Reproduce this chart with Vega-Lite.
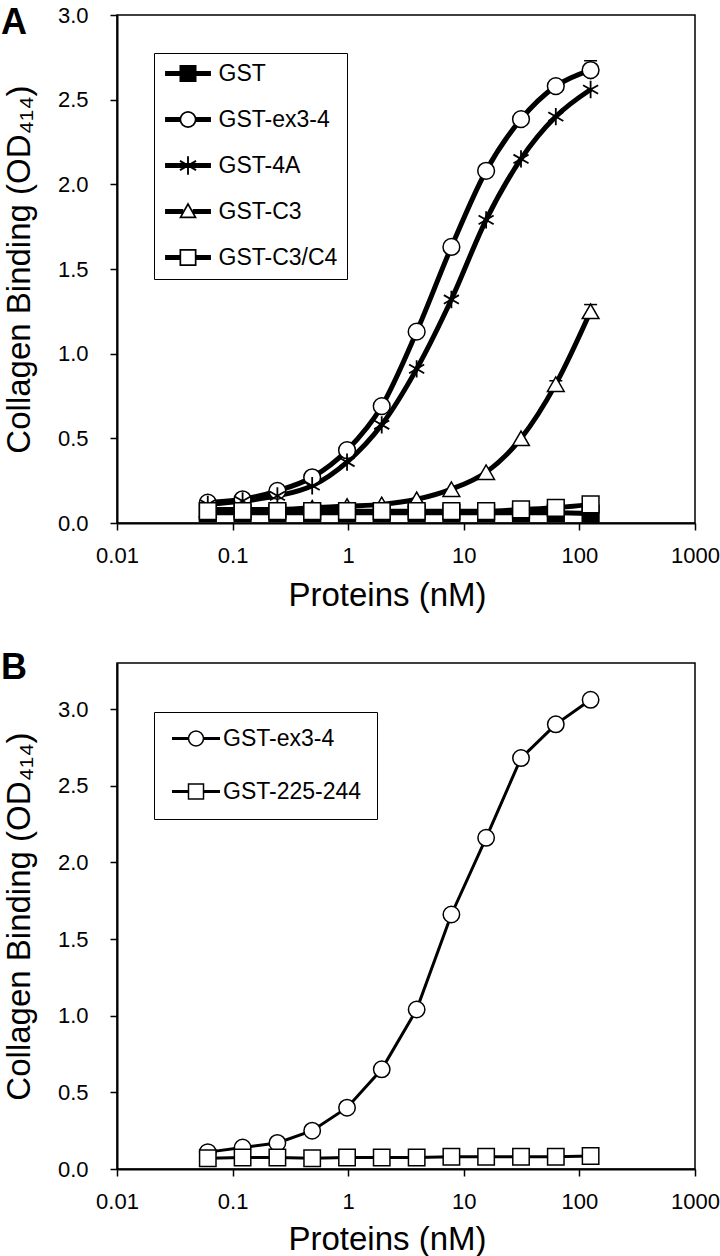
{
  "$schema": "https://vega.github.io/schema/vega-lite/v6.json",
  "background": "white",
  "padding": {"left": 0, "top": 3, "right": 5, "bottom": 0},
  "spacing": 35,
  "config": {
    "font": "Liberation Sans",
    "view": {"stroke": "black", "strokeWidth": 1.5},
    "axis": {
      "grid": false, "domainColor": "black", "domainWidth": 2,
      "tickColor": "black", "tickWidth": 1.5, "tickSize": 7,
      "labelColor": "black", "labelFont": "Liberation Sans", "labelFontSize": 22,
      "labelFlush": false, "labelOverlap": false,
      "titleColor": "black", "titleFont": "Liberation Sans", "titleFontSize": 33, "titleFontWeight": "normal"
    },
    "legend": {"labelFont": "Liberation Sans", "labelFontSize": 23, "labelColor": "black", "strokeColor": "black", "fillColor": "white"},
    "title": {"font": "Liberation Sans", "fontSize": 36, "fontWeight": "bold", "color": "black", "anchor": "start", "frame": "group"}
  },
  "resolve": {
    "scale": {"x": "independent", "y": "independent", "shape": "independent", "fill": "independent"},
    "legend": {"shape": "independent", "fill": "independent"}
  },
  "datasets": {
    "A": [
      {"series": "GST", "conc": 0.061, "od": 0.06},
      {"series": "GST", "conc": 0.122, "od": 0.06},
      {"series": "GST", "conc": 0.244, "od": 0.06},
      {"series": "GST", "conc": 0.488, "od": 0.06},
      {"series": "GST", "conc": 0.977, "od": 0.06},
      {"series": "GST", "conc": 1.95, "od": 0.06},
      {"series": "GST", "conc": 3.91, "od": 0.06},
      {"series": "GST", "conc": 7.81, "od": 0.06},
      {"series": "GST", "conc": 15.6, "od": 0.06},
      {"series": "GST", "conc": 31.25, "od": 0.06},
      {"series": "GST", "conc": 62.5, "od": 0.06},
      {"series": "GST", "conc": 125, "od": 0.055},
      {"series": "GST-ex3-4", "conc": 0.061, "od": 0.12},
      {"series": "GST-ex3-4", "conc": 0.122, "od": 0.14},
      {"series": "GST-ex3-4", "conc": 0.244, "od": 0.19},
      {"series": "GST-ex3-4", "conc": 0.488, "od": 0.27},
      {"series": "GST-ex3-4", "conc": 0.977, "od": 0.43},
      {"series": "GST-ex3-4", "conc": 1.95, "od": 0.69},
      {"series": "GST-ex3-4", "conc": 3.91, "od": 1.13},
      {"series": "GST-ex3-4", "conc": 7.81, "od": 1.63},
      {"series": "GST-ex3-4", "conc": 15.6, "od": 2.08},
      {"series": "GST-ex3-4", "conc": 31.25, "od": 2.385},
      {"series": "GST-ex3-4", "conc": 62.5, "od": 2.58},
      {"series": "GST-ex3-4", "conc": 125, "od": 2.675},
      {"series": "GST-4A", "conc": 0.061, "od": 0.11},
      {"series": "GST-4A", "conc": 0.122, "od": 0.13},
      {"series": "GST-4A", "conc": 0.244, "od": 0.16},
      {"series": "GST-4A", "conc": 0.488, "od": 0.22},
      {"series": "GST-4A", "conc": 0.977, "od": 0.36},
      {"series": "GST-4A", "conc": 1.95, "od": 0.58},
      {"series": "GST-4A", "conc": 3.91, "od": 0.91},
      {"series": "GST-4A", "conc": 7.81, "od": 1.32},
      {"series": "GST-4A", "conc": 15.6, "od": 1.79},
      {"series": "GST-4A", "conc": 31.25, "od": 2.15},
      {"series": "GST-4A", "conc": 62.5, "od": 2.4},
      {"series": "GST-4A", "conc": 125, "od": 2.56},
      {"series": "GST-C3", "conc": 0.061, "od": 0.08},
      {"series": "GST-C3", "conc": 0.122, "od": 0.08},
      {"series": "GST-C3", "conc": 0.244, "od": 0.08},
      {"series": "GST-C3", "conc": 0.488, "od": 0.09},
      {"series": "GST-C3", "conc": 0.977, "od": 0.1},
      {"series": "GST-C3", "conc": 1.95, "od": 0.11},
      {"series": "GST-C3", "conc": 3.91, "od": 0.14},
      {"series": "GST-C3", "conc": 7.81, "od": 0.2},
      {"series": "GST-C3", "conc": 15.6, "od": 0.3},
      {"series": "GST-C3", "conc": 31.25, "od": 0.5},
      {"series": "GST-C3", "conc": 62.5, "od": 0.82},
      {"series": "GST-C3", "conc": 125, "od": 1.25},
      {"series": "GST-C3/C4", "conc": 0.061, "od": 0.07},
      {"series": "GST-C3/C4", "conc": 0.122, "od": 0.07},
      {"series": "GST-C3/C4", "conc": 0.244, "od": 0.07},
      {"series": "GST-C3/C4", "conc": 0.488, "od": 0.07},
      {"series": "GST-C3/C4", "conc": 0.977, "od": 0.07},
      {"series": "GST-C3/C4", "conc": 1.95, "od": 0.07},
      {"series": "GST-C3/C4", "conc": 3.91, "od": 0.07},
      {"series": "GST-C3/C4", "conc": 7.81, "od": 0.07},
      {"series": "GST-C3/C4", "conc": 15.6, "od": 0.07},
      {"series": "GST-C3/C4", "conc": 31.25, "od": 0.08},
      {"series": "GST-C3/C4", "conc": 62.5, "od": 0.09},
      {"series": "GST-C3/C4", "conc": 125, "od": 0.11}
    ],
    "errA": [
      {"series": "GST-ex3-4", "conc": 125, "lo": 2.62, "hi": 2.73},
      {"series": "GST-C3", "conc": 125, "lo": 1.21, "hi": 1.29},
      {"series": "GST-C3", "conc": 62.5, "lo": 0.79, "hi": 0.84}
    ],
    "B": [
      {"series": "GST-ex3-4", "conc": 0.061, "od": 0.11},
      {"series": "GST-ex3-4", "conc": 0.122, "od": 0.14},
      {"series": "GST-ex3-4", "conc": 0.244, "od": 0.17},
      {"series": "GST-ex3-4", "conc": 0.488, "od": 0.25},
      {"series": "GST-ex3-4", "conc": 0.977, "od": 0.4},
      {"series": "GST-ex3-4", "conc": 1.95, "od": 0.65},
      {"series": "GST-ex3-4", "conc": 3.91, "od": 1.04},
      {"series": "GST-ex3-4", "conc": 7.81, "od": 1.66},
      {"series": "GST-ex3-4", "conc": 15.6, "od": 2.16},
      {"series": "GST-ex3-4", "conc": 31.25, "od": 2.68},
      {"series": "GST-ex3-4", "conc": 62.5, "od": 2.9},
      {"series": "GST-ex3-4", "conc": 125, "od": 3.06},
      {"series": "GST-225-244", "conc": 0.061, "od": 0.07},
      {"series": "GST-225-244", "conc": 0.122, "od": 0.075},
      {"series": "GST-225-244", "conc": 0.244, "od": 0.075},
      {"series": "GST-225-244", "conc": 0.488, "od": 0.07},
      {"series": "GST-225-244", "conc": 0.977, "od": 0.075},
      {"series": "GST-225-244", "conc": 1.95, "od": 0.075},
      {"series": "GST-225-244", "conc": 3.91, "od": 0.075},
      {"series": "GST-225-244", "conc": 7.81, "od": 0.08},
      {"series": "GST-225-244", "conc": 15.6, "od": 0.08},
      {"series": "GST-225-244", "conc": 31.25, "od": 0.08},
      {"series": "GST-225-244", "conc": 62.5, "od": 0.08},
      {"series": "GST-225-244", "conc": 125, "od": 0.085}
    ]
  },
  "vconcat": [
    {
      "width": 578,
      "height": 508,
      "title": {"text": "A", "dx": -116, "dy": 38.5, "offset": -27, "baseline": "alphabetic"},
      "encoding": {
        "x": {"field": "conc", "type": "quantitative",
          "scale": {"type": "log", "domain": [0.01, 1000], "nice": false},
          "axis": {"values": [0.01, 0.1, 1, 10, 100, 1000], "format": "~g", "labelPadding": 15,
            "title": "Proteins (nM)", "titleX": 270, "titleY": 82, "titleBaseline": "alphabetic", "titleAlign": "center", "titleAngle": 0}},
        "y": {"field": "od", "type": "quantitative",
          "scale": {"domain": [0, 3], "nice": false, "zero": true},
          "axis": {"values": [0, 0.5, 1, 1.5, 2, 2.5, 3], "format": ".1f", "labelPadding": 22,
            "title": "Collagen Binding (OD₄₁₄)", "titleX": -88, "titleY": 254, "titleAngle": -90, "titleBaseline": "alphabetic", "titleAlign": "center"}}
      },
      "layer": [
        {
          "data": {"name": "A"},
          "mark": {"type": "line", "interpolate": "monotone", "stroke": "black", "strokeWidth": 5},
          "encoding": {"detail": {"field": "series"}}
        },
        {
          "data": {"name": "errA"},
          "mark": {"type": "rule", "stroke": "black", "strokeWidth": 1.5},
          "encoding": {"y": {"field": "lo", "type": "quantitative"}, "y2": {"field": "hi"}}
        },
        {
          "data": {"name": "errA"},
          "mark": {"type": "point", "shape": "stroke", "size": 169, "stroke": "black", "strokeWidth": 1.5, "opacity": 1},
          "encoding": {"y": {"field": "hi", "type": "quantitative"}}
        },
        {
          "data": {"name": "A"},
          "transform": [{"filter": "datum.series === 'GST'"}],
          "mark": {"type": "point", "shape": "square", "filled": true, "fill": "black", "stroke": "black", "strokeWidth": 1.5, "size": 280, "opacity": 1}
        },
        {
          "data": {"name": "A"},
          "transform": [{"filter": "datum.series === 'GST-ex3-4'"}],
          "mark": {"type": "point", "shape": "circle", "filled": true, "fill": "white", "stroke": "black", "strokeWidth": 1.5, "size": 280, "opacity": 1}
        },
        {
          "data": {"name": "A"},
          "transform": [{"filter": "datum.series === 'GST-4A'"}],
          "mark": {"type": "point", "shape": "M 0 -1 L 0 1 M -0.87 -0.5 L 0.87 0.5 M -0.87 0.5 L 0.87 -0.5", "filled": true, "fill": "white", "stroke": "black", "strokeWidth": 1.8, "size": 300, "opacity": 1}
        },
        {
          "data": {"name": "A"},
          "transform": [{"filter": "datum.series === 'GST-C3'"}],
          "mark": {"type": "point", "shape": "triangle-up", "filled": true, "fill": "white", "stroke": "black", "strokeWidth": 1.5, "size": 280, "opacity": 1}
        },
        {
          "data": {"name": "A"},
          "transform": [{"filter": "datum.series === 'GST-C3/C4'"}],
          "mark": {"type": "point", "shape": "square", "filled": true, "fill": "white", "stroke": "black", "strokeWidth": 1.5, "size": 280, "opacity": 1}
        },
        {
          "data": {"name": "A"},
          "transform": [{"filter": "false"}],
          "mark": {"type": "point", "filled": true, "strokeWidth": 0, "size": 289, "opacity": 1},
          "encoding": {
            "shape": {"field": "series", "type": "nominal",
              "scale": {"domain": ["GST", "GST-ex3-4", "GST-4A", "GST-C3", "GST-C3/C4"],
                "range": [
                  "M -1 -1 L 1 -1 L 1 1 L -1 1 Z M -2.7 -0.3 L -0.9 -0.3 L -0.9 0.3 L -2.7 0.3 Z M 0.9 -0.3 L 2.7 -0.3 L 2.7 0.3 L 0.9 0.3 Z",
                  "M 1 0 L 0.924 0.383 L 0.707 0.707 L 0.383 0.924 L 0 1 L -0.383 0.924 L -0.707 0.707 L -0.924 0.383 L -1 0 L -0.924 -0.383 L -0.707 -0.707 L -0.383 -0.924 L 0 -1 L 0.383 -0.924 L 0.707 -0.707 L 0.924 -0.383 Z M 0.8 0 L 0.739 -0.306 L 0.566 -0.566 L 0.306 -0.739 L 0 -0.8 L -0.306 -0.739 L -0.566 -0.566 L -0.739 -0.306 L -0.8 0 L -0.739 0.306 L -0.566 0.566 L -0.306 0.739 L 0 0.8 L 0.306 0.739 L 0.566 0.566 L 0.739 0.306 Z M -2.7 -0.3 L -0.9 -0.3 L -0.9 0.3 L -2.7 0.3 Z M 0.9 -0.3 L 2.7 -0.3 L 2.7 0.3 L 0.9 0.3 Z",
                  "M -2.7 -0.3 L 2.7 -0.3 L 2.7 0.3 L -2.7 0.3 Z M -0.11 -1.1 L 0.11 -1.1 L 0.11 1.1 L -0.11 1.1 Z M -0.895 -0.645 L 1.005 0.455 L 0.895 0.645 L -1.005 -0.455 Z M -1.005 0.455 L 0.895 -0.645 L 1.005 -0.455 L -0.895 0.645 Z",
                  "M 0 -1.1 L 1.05 0.8 L -1.05 0.8 Z M 0 -0.69 L -0.71 0.6 L 0.71 0.6 Z M -2.7 -0.3 L -0.56 -0.3 L -0.56 0.3 L -2.7 0.3 Z M 0.56 -0.3 L 2.7 -0.3 L 2.7 0.3 L 0.56 0.3 Z",
                  "M -1 -1 L 1 -1 L 1 1 L -1 1 Z M -0.8 -0.8 L -0.8 0.8 L 0.8 0.8 L 0.8 -0.8 Z M -2.7 -0.3 L -0.9 -0.3 L -0.9 0.3 L -2.7 0.3 Z M 0.9 -0.3 L 2.7 -0.3 L 2.7 0.3 L 0.9 0.3 Z"
                ]},
              "legend": {
                "title": null, "orient": "none", "legendX": 37, "legendY": 38, "padding": 9,
                "rowPadding": 22, "symbolSize": 289, "symbolOffset": 13.5, "labelOffset": 19,
                "symbolStrokeWidth": 0,
                "encode": {
                  "legend": {"strokeWidth": {"value": 1.5}},
                  "symbols": {
                    "stroke": {"value": "transparent"},
                    "strokeWidth": {"value": 0},
                    "size": {"value": 289},
                    "opacity": {"value": 1}
                  }
                }
              }},
            "fill": {"field": "series", "type": "nominal",
              "scale": {"domain": ["GST", "GST-ex3-4", "GST-4A", "GST-C3", "GST-C3/C4"],
                "range": ["black", "black", "black", "black", "black"]},
              "legend": null}
          }
        }
      ]
    },
    {
      "width": 578,
      "height": 506,
      "title": {"text": "B", "dx": -116, "dy": 24.5, "offset": -27, "baseline": "alphabetic"},
      "encoding": {
        "x": {"field": "conc", "type": "quantitative",
          "scale": {"type": "log", "domain": [0.01, 1000], "nice": false},
          "axis": {"values": [0.01, 0.1, 1, 10, 100, 1000], "format": "~g", "labelPadding": 15,
            "title": "Proteins (nM)", "titleX": 270, "titleY": 80, "titleBaseline": "alphabetic", "titleAlign": "center", "titleAngle": 0}},
        "y": {"field": "od", "type": "quantitative",
          "scale": {"domain": [0, 3.3], "nice": false, "zero": true},
          "axis": {"values": [0, 0.5, 1, 1.5, 2, 2.5, 3], "format": ".1f", "labelPadding": 22,
            "title": "Collagen Binding (OD₄₁₄)", "titleX": -88, "titleY": 253, "titleAngle": -90, "titleBaseline": "alphabetic", "titleAlign": "center"}}
      },
      "layer": [
        {
          "data": {"name": "B"},
          "mark": {"type": "line", "stroke": "black", "strokeWidth": 3},
          "encoding": {"detail": {"field": "series"}}
        },
        {
          "data": {"name": "B"},
          "transform": [{"filter": "datum.series === 'GST-ex3-4'"}],
          "mark": {"type": "point", "shape": "circle", "filled": true, "fill": "white", "stroke": "black", "strokeWidth": 1.5, "size": 270, "opacity": 1}
        },
        {
          "data": {"name": "B"},
          "transform": [{"filter": "datum.series === 'GST-225-244'"}],
          "mark": {"type": "point", "shape": "square", "filled": true, "fill": "white", "stroke": "black", "strokeWidth": 1.5, "size": 270, "opacity": 1}
        },
        {
          "data": {"name": "B"},
          "transform": [{"filter": "false"}],
          "mark": {"type": "point", "filled": true, "strokeWidth": 0, "size": 225, "opacity": 1},
          "encoding": {
            "shape": {"field": "series", "type": "nominal",
              "scale": {"domain": ["GST-ex3-4", "GST-225-244"],
                "range": [
                  "M 1.1 0 L 1.016 0.421 L 0.778 0.778 L 0.421 1.016 L 0 1.1 L -0.421 1.016 L -0.778 0.778 L -1.016 0.421 L -1.1 0 L -1.016 -0.421 L -0.778 -0.778 L -0.421 -1.016 L 0 -1.1 L 0.421 -1.016 L 0.778 -0.778 L 1.016 -0.421 Z M 0.9 0 L 0.831 -0.344 L 0.636 -0.636 L 0.344 -0.831 L 0 -0.9 L -0.344 -0.831 L -0.636 -0.636 L -0.831 -0.344 L -0.9 0 L -0.831 0.344 L -0.636 0.636 L -0.344 0.831 L 0 0.9 L 0.344 0.831 L 0.636 0.636 L 0.831 0.344 Z M -3.2 -0.2 L -1 -0.2 L -1 0.2 L -3.2 0.2 Z M 1 -0.2 L 3.2 -0.2 L 3.2 0.2 L 1 0.2 Z",
                  "M -1.1 -1.1 L 1.1 -1.1 L 1.1 1.1 L -1.1 1.1 Z M -0.9 -0.9 L -0.9 0.9 L 0.9 0.9 L 0.9 -0.9 Z M -3.2 -0.2 L -1 -0.2 L -1 0.2 L -3.2 0.2 Z M 1 -0.2 L 3.2 -0.2 L 3.2 0.2 L 1 0.2 Z"
                ]},
              "legend": {
                "title": null, "orient": "none", "legendX": 37, "legendY": 49, "padding": 15,
                "rowPadding": 29, "symbolSize": 225, "symbolOffset": 15.5, "labelOffset": 15.5,
                "symbolStrokeWidth": 0,
                "encode": {
                  "legend": {"strokeWidth": {"value": 1.5}},
                  "symbols": {
                    "stroke": {"value": "transparent"},
                    "strokeWidth": {"value": 0},
                    "size": {"value": 225},
                    "opacity": {"value": 1}
                  }
                }
              }},
            "fill": {"field": "series", "type": "nominal",
              "scale": {"domain": ["GST-ex3-4", "GST-225-244"], "range": ["black", "black"]},
              "legend": null}
          }
        }
      ]
    }
  ]
}
